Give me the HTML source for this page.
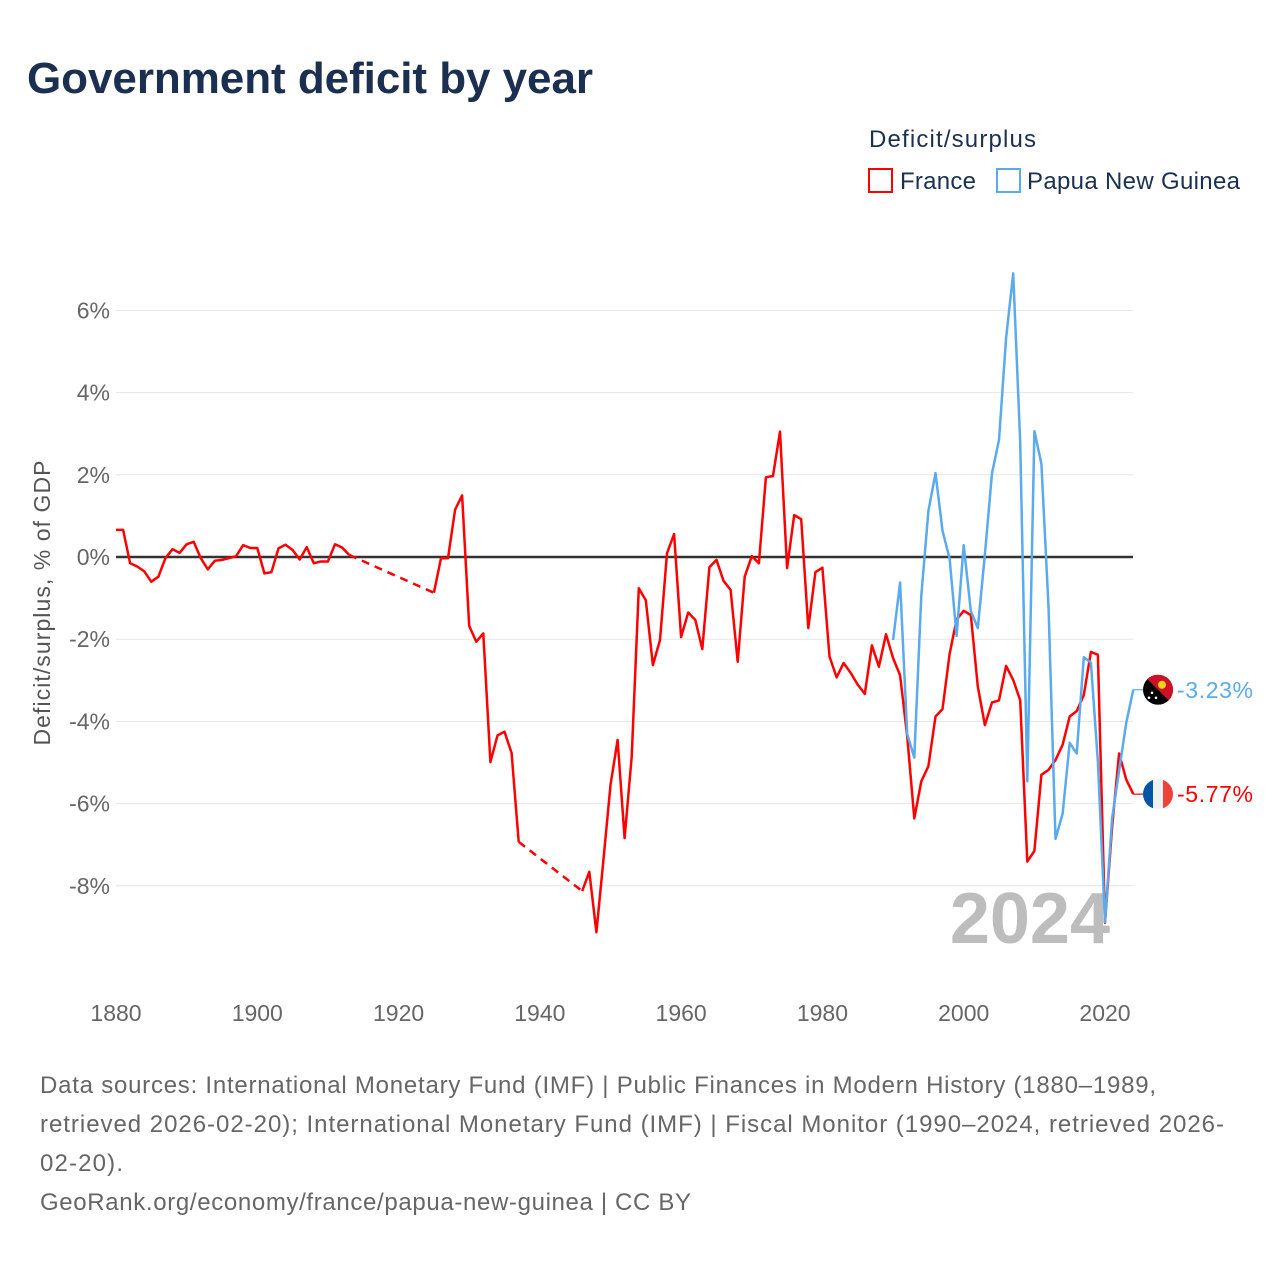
<!DOCTYPE html>
<html><head><meta charset="utf-8"><style>
body{margin:0;background:#fff;font-family:"Liberation Sans",sans-serif}
#wrap{position:relative;width:1280px;height:1280px;overflow:hidden}
</style></head><body>
<div id="wrap">
<svg id="chart" width="1280" height="1280" xmlns="http://www.w3.org/2000/svg">
<text x="27" y="93" font-size="44" font-weight="bold" fill="#1b3050" textLength="566">Government deficit by year</text>
<text x="869" y="147" font-size="24" fill="#1b3050" textLength="167">Deficit/surplus</text>
<g>
<rect x="869" y="169" width="23" height="23" fill="none" stroke="#ff0000" stroke-width="2"/>
<text x="900" y="189" font-size="24" fill="#1b3050" textLength="76">France</text></g>
<g>
<rect x="997" y="169" width="23" height="23" fill="none" stroke="#5aaaee" stroke-width="2"/>
<text x="1027" y="189" font-size="24" fill="#1b3050" textLength="213">Papua New Guinea</text></g>
<g id="grid"></g><g id="yticks"></g><g id="xticks"></g>
<text x="1110" y="943" font-size="72" font-weight="bold" fill="#bdbdbd" text-anchor="end">2024</text>
<text transform="translate(50,603) rotate(-90)" font-size="23" fill="#555" text-anchor="middle" textLength="285">Deficit/surplus, % of GDP</text>
<g id="series"></g>
<g id="labels"></g>
<text x="40" y="1093" font-size="24" fill="#666" textLength="1116">Data sources: International Monetary Fund (IMF) | Public Finances in Modern History (1880–1989,</text>
<text x="40" y="1132" font-size="24" fill="#666" textLength="1184">retrieved 2026-02-20); International Monetary Fund (IMF) | Fiscal Monitor (1990–2024, retrieved 2026-</text>
<text x="40" y="1171" font-size="24" fill="#666" textLength="83">02-20).</text>
<text x="40" y="1210" font-size="24" fill="#666" textLength="651">GeoRank.org/economy/france/papua-new-guinea | CC BY</text>
</svg></div>
<script>
const yTicks=[6,4,2,0,-2,-4,-6,-8];
const xTicks=[1880,1900,1920,1940,1960,1980,2000,2020];
const franceStart=1880;
const franceValues=[0.66,0.66,-0.15,-0.23,-0.35,-0.6,-0.48,-0.03,0.19,0.1,0.31,0.37,-0.03,-0.3,-0.09,-0.07,-0.03,0.02,0.29,0.22,0.22,-0.4,-0.37,0.21,0.3,0.17,-0.06,0.24,-0.15,-0.11,-0.11,0.31,0.23,0.05,
null,null,null,null,null,null,null,null,null,null,null,
-0.87,-0.03,-0.03,1.15,1.5,-1.68,-2.06,-1.86,-4.99,-4.34,-4.25,-4.77,-6.93,
null,null,null,null,null,null,null,null,
-8.13,-7.66,-9.13,-7.38,-5.55,-4.45,-6.84,-4.86,-0.76,-1.05,-2.63,-2.02,0.09,0.56,-1.95,-1.35,-1.53,-2.24,-0.25,-0.07,-0.58,-0.8,-2.55,-0.48,0.02,-0.15,1.94,1.97,3.05,-0.27,1.02,0.92,-1.73,-0.37,-0.26,-2.42,-2.93,-2.58,-2.82,-3.11,-3.33,-2.15,-2.67,-1.88,-2.46,-2.88,-4.36,-6.36,-5.46,-5.09,-3.88,-3.7,-2.36,-1.52,-1.31,-1.41,-3.15,-4.09,-3.54,-3.49,-2.65,-2.99,-3.49,-7.41,-7.15,-5.3,-5.18,-4.94,-4.57,-3.88,-3.75,-3.36,-2.31,-2.38,-8.9,-6.57,-4.78,-5.41,-5.77];
const pngStart=1990;
const pngValues=[-2.02,-0.62,-4.31,-4.88,-0.94,1.12,2.04,0.64,-0.04,-1.92,0.29,-1.31,-1.73,0.06,2.04,2.85,5.33,6.9,2.8,-5.46,3.06,2.27,-1.2,-6.86,-6.25,-4.52,-4.78,-2.44,-2.57,-4.99,-8.88,-6.36,-5.2,-4.04,-3.23];
const NS='http://www.w3.org/2000/svg';
const X=yr=>116+(yr-1880)*(1105-116)/140;
const Y=v=>557-v*41.1;
function mk(tag,at,parent){const e=document.createElementNS(NS,tag);for(const k in at)e.setAttribute(k,at[k]);document.getElementById(parent).appendChild(e);return e;}
yTicks.forEach(t=>{
 const g=mk('line',{x1:116,x2:1133,y1:Y(t),y2:Y(t),stroke:t===0?'#333':'#e6e6e6','stroke-width':t===0?2.5:1},'grid');
 
 
 const l=mk('text',{x:110,y:Y(t)+8,'text-anchor':'end','font-size':23,fill:'#666'},'yticks');
 l.textContent=t+'%';
 
 
});
xTicks.forEach(t=>{
 const l=mk('text',{x:X(t),y:1021,'text-anchor':'middle','font-size':23,fill:'#666'},'xticks');
 l.textContent=t;
 
 
});
function draw(start,vals,color,name){
 let seg=[],last=null;
 const flush=()=>{if(seg.length>1){const p=mk('polyline',{points:seg.join(' '),fill:'none',stroke:color,'stroke-width':2.5,'stroke-linejoin':'round'},'series');}seg=[];};
 vals.forEach((v,i)=>{
  const yr=start+i;
  if(v===null){flush();return;}
  if(last&&last.yr!==yr-1){const d=mk('line',{x1:X(last.yr),y1:Y(last.v),x2:X(yr),y2:Y(v),stroke:color,'stroke-width':2.5,'stroke-dasharray':'8 6'},'series');}
  seg.push(X(yr).toFixed(1)+','+Y(v).toFixed(1));last={yr,v};
 });
 flush();
 return last;
}
const lf=draw(franceStart,franceValues,'#ff0000','france');
const lp=draw(pngStart,pngValues,'#5aaaee','png');
function endLabel(last,color,name,flag){
 const y=Y(last.v);
 const c=mk('line',{x1:X(last.yr),x2:1145,y1:y,y2:y,stroke:color,'stroke-width':1.2},'labels');
 
 
 const g=mk('g',{},'labels');
 
 
 g.innerHTML=flag(1158,y);
 const t=mk('text',{x:1177,y:y+8,'font-size':23,fill:color,textLength:76},'labels');
 t.textContent=last.v.toFixed(2)+'%';
 
 
}
endLabel(lp,'#5aaaee','png',(x,y)=>`<clipPath id="cp1"><circle cx="${x}" cy="${y}" r="15"/></clipPath><g clip-path="url(#cp1)"><rect x="${x-15}" y="${y-15}" width="30" height="30" fill="#000"/><polygon points="${x-15},${y-15} ${x+15},${y-15} ${x+15},${y+15}" fill="#ce1126"/><circle cx="${x+4}" cy="${y-5}" r="4" fill="#fcd116"/><circle cx="${x-6}" cy="${y+3}" r="1.3" fill="#fff"/><circle cx="${x-2}" cy="${y+8}" r="1.3" fill="#fff"/><circle cx="${x-9}" cy="${y+8}" r="1.3" fill="#fff"/></g>`);
endLabel(lf,'#ff0000','france',(x,y)=>`<clipPath id="cp2"><circle cx="${x}" cy="${y}" r="15"/></clipPath><g clip-path="url(#cp2)"><rect x="${x-15}" y="${y-15}" width="10" height="30" fill="#0055a4"/><rect x="${x-5}" y="${y-15}" width="10" height="30" fill="#f0f0f0"/><rect x="${x+5}" y="${y-15}" width="10" height="30" fill="#ef4135"/></g>`);
</script>
</body></html>
